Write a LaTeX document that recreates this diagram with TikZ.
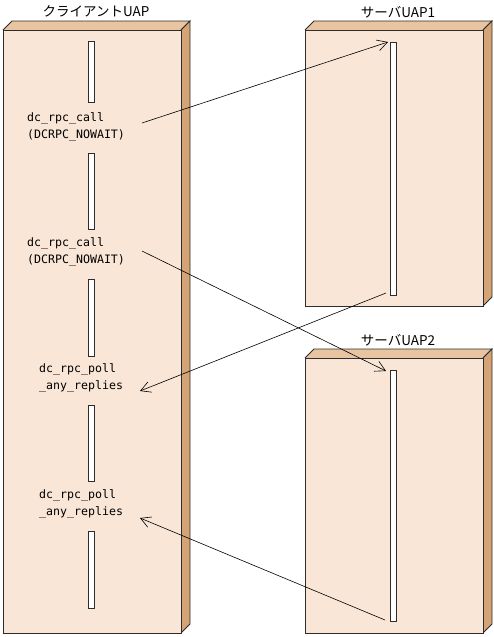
\documentclass[tikz,border=0pt]{standalone}
\usepackage{fontspec}
\newfontfamily\jpfont{Noto Sans CJK JP}
\newfontfamily\monofont{DejaVu Sans Mono}
\usetikzlibrary{arrows.meta}
\definecolor{frontc}{RGB}{249,230,214}
\definecolor{topc}{RGB}{233,196,160}
\definecolor{sidec}{RGB}{212,163,118}
\definecolor{edgec}{RGB}{45,45,45}
\tikzset{
  boxface/.style={draw=edgec, line width=0.9pt, line join=miter},
  lifebar/.style={draw=edgec, fill=white, line width=0.8pt, minimum width=6pt, inner sep=0pt},
  title/.style={font=\jpfont\fontsize{13.5}{15}\selectfont, inner sep=0pt},
  call/.style={font=\monofont\fontsize{11.6}{17}\selectfont, align=left, anchor=west, inner sep=0pt},
  msg/.style={draw=black, line width=0.6pt, -{Straight Barb[length=10pt,width=11pt]}},
}
\newcommand{\blockbox}[4]{% x1 y1 x2 y2 (pixel coords, y down)
  \fill[topc] (#1,#2) -- (#1+9,#2-9) -- (#3+9,#2-9) -- (#3,#2) -- cycle;
  \draw[boxface] (#1,#2) -- (#1+9,#2-9) -- (#3+9,#2-9) -- (#3,#2);
  \fill[sidec] (#3,#2) -- (#3+9,#2-9) -- (#3+9,#4-9) -- (#3,#4) -- cycle;
  \draw[boxface] (#3,#2) -- (#3+9,#2-9) -- (#3+9,#4-9) -- (#3,#4);
  \draw[boxface, fill=frontc] (#1,#2) rectangle (#3,#4);
}
\begin{document}
\begin{tikzpicture}[x=1pt, y=-1pt]
\useasboundingbox (0,0) rectangle (493,637);
% boxes
\blockbox{3}{30}{181}{633}
\blockbox{305}{30}{483}{306}
\blockbox{305}{358}{483}{633}
% titles
\node[title] (tclient) at (96,11) {クライアントUAP};
\node[title] (tserv1) at (398,12) {サーバUAP1};
\node[title] (tserv2) at (398,340) {サーバUAP2};
% client bars
\node[lifebar, minimum height=61pt] (c1) at (91,71.5) {};
\node[lifebar, minimum height=76pt] (c2) at (91,191) {};
\node[lifebar, minimum height=77pt] (c3) at (91,317.5) {};
\node[lifebar, minimum height=76pt] (c4) at (91,443) {};
\node[lifebar, minimum height=77pt] (c5) at (91,569.5) {};
% server bars
\node[lifebar, minimum height=253pt] (s1) at (393,168.5) {};
\node[lifebar, minimum height=251pt] (s2) at (393,495.5) {};
% labels
\node[call] (l1) at (27,126.5) {dc\_rpc\_call\\(DCRPC\_NOWAIT)};
\node[call] (l2) at (27,251.5) {dc\_rpc\_call\\(DCRPC\_NOWAIT)};
\node[call] (l3) at (39,378) {dc\_rpc\_poll\\\_any\_replies};
\node[call] (l4) at (39,504) {dc\_rpc\_poll\\\_any\_replies};
% arrow endpoints
\coordinate (a1s) at (142,123);
\coordinate (a1e) at (388,42);
\coordinate (a2s) at (142,251);
\coordinate (a2e) at (386,371);
\coordinate (a3s) at (386,293);
\coordinate (a3e) at (140,391);
\coordinate (a4s) at (385,620);
\coordinate (a4e) at (140,518);
\draw[msg] (a1s) -- (a1e);
\draw[msg] (a2s) -- (a2e);
\draw[msg] (a3s) -- (a3e);
\draw[msg] (a4s) -- (a4e);
\end{tikzpicture}
\end{document}
